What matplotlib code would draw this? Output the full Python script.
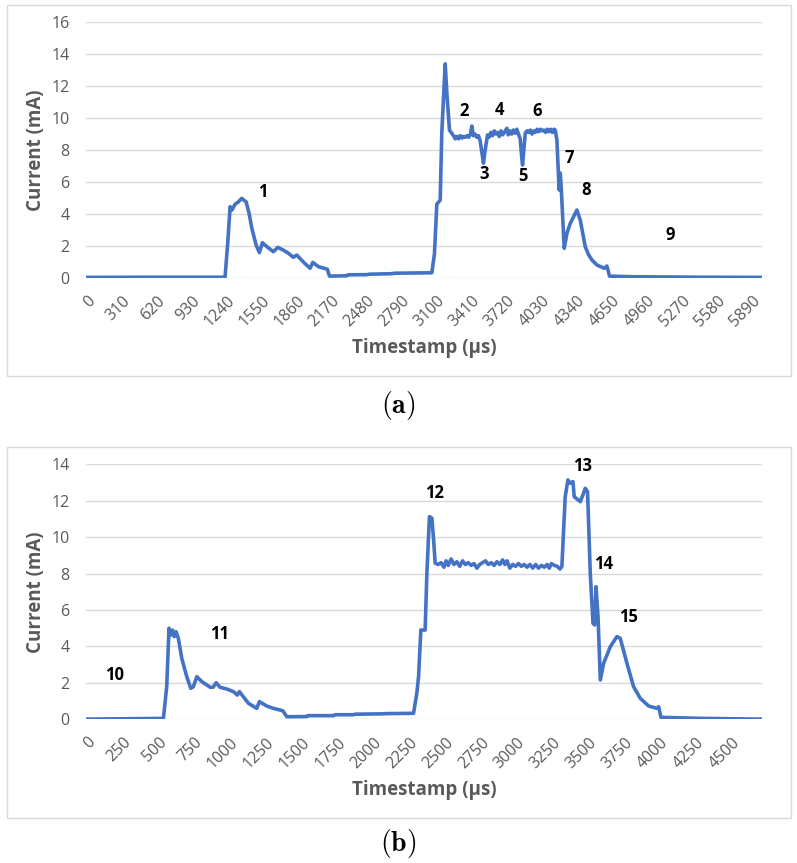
import numpy as np
import matplotlib.pyplot as plt
from matplotlib.patches import Rectangle
from matplotlib.transforms import ScaledTranslation

plt.rcParams['font.family'] = ['Open Sans', 'DejaVu Sans']
plt.rcParams['mathtext.fontset'] = 'cm'

# ---- panel (a) ----
t_a = [0, 600, 1222, 1246, 1267, 1284, 1310, 1340, 1370, 1390, 1408, 1435, 1459, 1497,
       1526, 1553, 1600, 1650, 1689, 1740, 1783, 1827, 1857, 1920, 1975, 1999, 2049,
       2128, 2146, 2300, 2310, 2477, 2500, 2700, 2720, 2949, 3053, 3076, 3097, 3127,
       3141, 3171, 3186, 3209,
       3244, 3260, 3275, 3290, 3305, 3320, 3335, 3350, 3365, 3380, 3395, 3407, 3420,
       3435, 3450, 3465, 3480, 3495, 3510, 3525, 3546, 3560, 3575, 3590, 3605, 3620,
       3635, 3650, 3665, 3680, 3695, 3717, 3730, 3745, 3760, 3775, 3790, 3805, 3820,
       3835, 3848, 3856, 3866, 3880, 3895, 3910, 3925, 3940, 3955, 3970, 3985, 4000,
       4015, 4030, 4045, 4060, 4075, 4090, 4105, 4120, 4135, 4145,
       4160, 4180, 4190, 4198, 4225, 4249, 4278, 4310, 4337, 4367, 4411, 4440, 4470,
       4514, 4579, 4603, 4626, 4836, 5430, 5976]
i_a = [0.02, 0.03, 0.03, 2.2, 4.45, 4.24, 4.6, 4.75, 4.97, 4.85, 4.76, 4.03, 3.1, 2.05,
       1.57, 2.19, 1.9, 1.63, 1.9, 1.72, 1.53, 1.28, 1.42, 0.95, 0.59, 0.96, 0.69,
       0.53, 0.1, 0.12, 0.18, 0.19, 0.22, 0.25, 0.28, 0.3, 0.31, 1.5, 4.6, 4.87,
       9.06, 13.4, 11.55, 9.25,
       8.9, 8.7, 8.85, 8.7, 8.9, 8.75, 8.85, 8.8, 8.9, 8.8, 9.0, 9.5, 8.9,
       9.0, 8.8, 8.9, 8.6, 7.9, 7.17, 8.0, 8.94, 8.8, 9.1, 8.9, 9.2, 9.0,
       9.1, 8.85, 9.2, 8.95, 9.1, 9.36, 8.95, 9.2, 9.0, 9.25, 9.05, 9.3, 9.0,
       8.7, 7.6, 7.06, 7.9, 9.05, 9.2, 9.1, 9.25, 9.0, 9.2, 9.1, 9.3, 9.15,
       9.3, 9.2, 9.25, 9.1, 9.3, 9.15, 9.3, 9.1, 9.3, 9.25,
       8.63, 5.5, 6.55, 5.7, 1.84, 2.78, 3.4, 3.85, 4.24, 3.61, 1.94, 1.45, 1.11,
       0.8, 0.59, 0.73, 0.1, 0.06, 0.03, 0.02]
lab_a = ['1', '2', '3', '4', '5', '6', '7', '8', '9']
lab_a_t = [1553, 3342, 3516, 3652, 3859, 3983, 4272, 4420, 5164]
lab_a_i = [5.35, 10.44, 6.48, 10.5, 6.39, 10.44, 7.48, 5.5, 2.67]

# ---- panel (b) ----
t_b = [0, 533, 556, 572, 586, 596, 609, 621, 637, 661, 696, 724, 742, 766, 801, 859,
       880, 901, 928, 980, 1021, 1049, 1063, 1126, 1184, 1203, 1254, 1300, 1366, 1394,
       1533, 1540, 1719, 1730, 1859, 1870, 2066, 2080, 2278, 2301, 2313, 2329, 2359,
       2371, 2389, 2406, 2418,
       2429, 2450, 2470, 2490, 2505, 2520, 2540, 2560, 2580, 2600, 2620, 2640, 2660,
       2680, 2700, 2720, 2740, 2760, 2780, 2800, 2820, 2840, 2860, 2880, 2900, 2915,
       2930, 2950, 2970, 2990, 3010, 3030, 3050, 3070, 3090, 3110, 3130, 3150, 3170,
       3190, 3210, 3225, 3240, 3260, 3280, 3300, 3313,
       3336, 3355, 3371, 3390, 3399, 3441, 3460, 3476, 3492, 3511, 3530, 3541, 3551,
       3565, 3581, 3604, 3651, 3697, 3720, 3767, 3813, 3860, 3918, 3977, 3988, 4004,
       4283, 4709]
i_b = [0.01, 0.05, 1.79, 5.0, 4.63, 4.9, 4.54, 4.81, 4.45, 3.35, 2.34, 1.7, 1.79, 2.34,
       2.07, 1.76, 1.76, 2.01, 1.76, 1.65, 1.52, 1.33, 1.52, 0.88, 0.6, 0.97, 0.73,
       0.6, 0.47, 0.14, 0.15, 0.2, 0.2, 0.25, 0.25, 0.28, 0.3, 0.31, 0.33, 1.43, 2.34,
       4.9, 4.9, 8.0, 11.13, 11.04, 9.85,
       8.57, 8.5, 8.6, 8.35, 8.7, 8.45, 8.8, 8.5, 8.65, 8.4, 8.7, 8.5, 8.6,
       8.45, 8.55, 8.3, 8.5, 8.6, 8.7, 8.5, 8.6, 8.45, 8.65, 8.5, 8.75, 8.5,
       8.7, 8.3, 8.5, 8.4, 8.55, 8.4, 8.5, 8.35, 8.5, 8.3, 8.5, 8.3, 8.45,
       8.35, 8.5, 8.3, 8.55, 8.45, 8.4, 8.25, 8.4,
       12.22, 13.14, 12.96, 13.05, 12.22, 11.95, 12.32, 12.68, 12.5, 8.0, 5.27, 5.18,
       7.28, 5.64, 2.16, 3.07, 3.99, 4.54, 4.45, 3.07, 1.79, 1.15, 0.73, 0.6, 0.69,
       0.11, 0.05, 0.01]
lab_b = ['10', '11', '12', '13', '14', '15']
lab_b_t = [195, 923, 2424, 3457, 3604, 3778]
lab_b_i = [2.43, 4.67, 12.41, 13.93, 8.53, 5.64]

W, H = 797, 863
fig = plt.figure(figsize=(W / 100, H / 100), dpi=100)

GRAY = '#595959'
GRID = '#d9d9d9'
BLUE = '#4472C4'


def draw_panel(ax, t, cur, labs, lab_t, lab_i, xticks, xmax, ymax, dx0):
    ax.plot(t, cur, color=BLUE, lw=2.6, solid_joinstyle='round')
    ax.set_xlim(-dx0, xmax)
    ax.set_ylim(0, ymax)
    ax.set_yticks(np.arange(0, ymax + 1, 2))
    ax.set_xticks(xticks)
    ax.grid(axis='y', color=GRID, lw=1)
    ax.set_axisbelow(True)
    for s in ax.spines.values():
        s.set_visible(False)
    ax.tick_params(length=0, labelsize=11.5, labelcolor=GRAY)
    ax.tick_params(axis='y', pad=12)
    ax.tick_params(axis='x', pad=15)
    ax.set_xticklabels([str(v) for v in xticks], rotation=45, ha='right',
                       va='center', rotation_mode='anchor')
    off = ScaledTranslation(4 / 72, 0, fig.dpi_scale_trans)
    for lbl in ax.get_xticklabels():
        lbl.set_transform(lbl.get_transform() + off)
    ax.set_xlabel('Timestamp (µs)', fontsize=13.5, fontweight='bold', color=GRAY)
    ax.set_ylabel('Current (mA)', fontsize=13.5, fontweight='bold', color=GRAY)
    for s, x, y in zip(labs, lab_t, lab_i):
        ax.text(x, y, s, fontsize=12, fontweight='bold', color='black',
                ha='center', va='center')


# outer boxes
for y0 in [376, 818]:
    fig.add_artist(Rectangle((7 / W, 1 - y0 / H), 784 / W, 371 / H,
                             transform=fig.transFigure, fill=False,
                             edgecolor=GRID, lw=1))

ax1 = fig.add_axes([86 / W, 1 - 277.7 / H, 676 / W, 255.4 / H])
draw_panel(ax1, t_a, i_a, lab_a, lab_a_t, lab_a_i, np.arange(0, 5891, 310),
           5976, 16, 9)
ax1.yaxis.set_label_coords(-(86 - 36) / 676, 0.5)
ax1.xaxis.set_label_coords(0.5, -(348 - 277.7) / 255.4)

ax2 = fig.add_axes([86 / W, 1 - 719.3 / H, 676 / W, 255 / H])
draw_panel(ax2, t_b, i_b, lab_b, lab_b_t, lab_b_i, np.arange(0, 4501, 250),
           4709, 14, 7)
ax2.yaxis.set_label_coords(-(86 - 36) / 676, 0.5)
ax2.xaxis.set_label_coords(0.5, -(790 - 719.3) / 255)

for ax in [ax1, ax2]:
    ax.xaxis.label.set_va('center')
    ax.yaxis.label.set_va('center')

fig.text(398 / W, 1 - 405 / H, r'$(\mathbf{a})$', fontsize=20, ha='center',
         va='center')
fig.text(398 / W, 1 - 843 / H, r'$(\mathbf{b})$', fontsize=20, ha='center',
         va='center')

fig.savefig('out.png', dpi=100)
